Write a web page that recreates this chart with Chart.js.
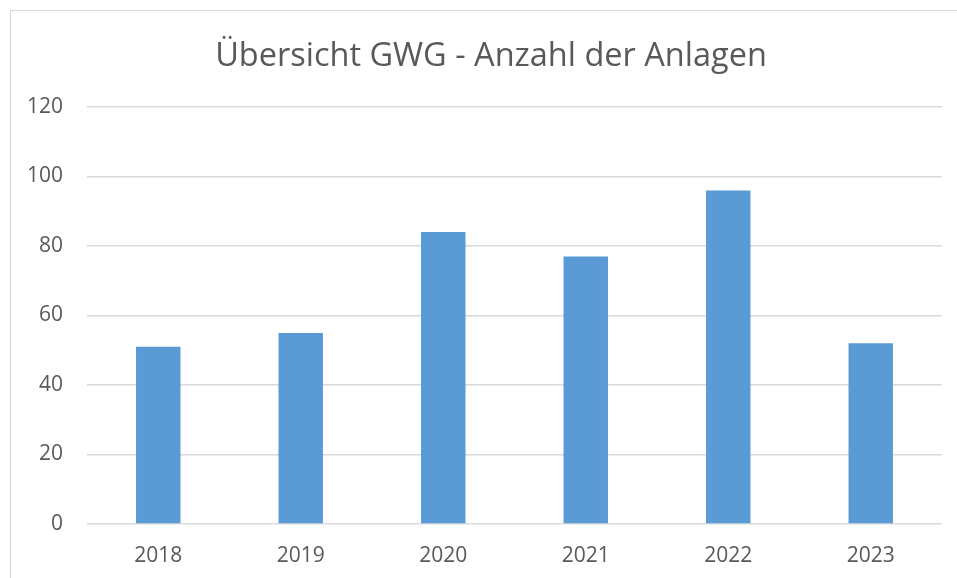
<!DOCTYPE html>
<html>
<head>
<meta charset="utf-8">
<script src="https://cdn.jsdelivr.net/npm/chart.js@4.4.0/dist/chart.umd.min.js"></script>
<style>
  html, body { margin: 0; padding: 0; background: #fff; overflow: hidden; }
  #frame {
    position: absolute; left: 10px; top: 10px;
    width: 1000px; height: 1000px;
    border: 1.5px solid #d9d9d9;
  }
  #wrap { position: absolute; left: 0; top: 0; width: 957px; height: 578px; }
</style>
</head>
<body>
<div id="frame"></div>
<div id="wrap"><canvas id="gwgChart" width="957" height="578"></canvas></div>
<script>
// Chart data
const years = ['2018', '2019', '2020', '2021', '2022', '2023'];
const anzahl = [51, 55, 84, 77, 96, 52];
const yTicks = [0, 20, 40, 60, 80, 100, 120];

const textColor = '#595959';
const gridColor = '#d9d9d9';
const fontFamily = '"Open Sans", "Noto Sans", sans-serif';

// the title is centred over the whole chart frame, which runs past the canvas edge
const shiftTitle = {
    id: 'shiftTitle',
    afterLayout(chart) {
        const t = chart.titleBlock;
        if (t) {
            t.left = 20;
            t.right = 962;
        }
    },
};

const ctx = document.getElementById('gwgChart').getContext('2d');

new Chart(ctx, {
    type: 'bar',
    data: {
        labels: years,
        datasets: [
            {
                label: 'Anzahl',
                data: anzahl,
                backgroundColor: '#5b9bd5',
                borderWidth: 0,
                barPercentage: 0.312,
                categoryPercentage: 1.0,
            },
        ],
    },
    options: {
        responsive: false,
        animation: false,
        layout: { padding: { left: 0, right: 15, top: 0, bottom: 0 } },
        plugins: {
            legend: { display: false },
            tooltip: { enabled: false },
            title: {
                display: true,
                text: 'Übersicht GWG - Anzahl der Anlagen',
                color: textColor,
                font: { family: fontFamily, size: 32.5, weight: 'normal' },
                padding: { top: 37, bottom: 31 },
            },
        },
        scales: {
            x: {
                grid: { display: false, drawTicks: false },
                border: { display: false },
                ticks: {
                    color: textColor,
                    font: { family: fontFamily, size: 21 },
                    padding: 19,
                    maxRotation: 0,
                },
                afterFit: (scale) => { scale.height = 54; },
            },
            y: {
                min: 0,
                max: 120,
                afterBuildTicks: (scale) => {
                    scale.ticks = yTicks.map(v => ({ value: v }));
                },
                grid: { color: gridColor, lineWidth: 1.5, drawTicks: false },
                border: { display: false },
                ticks: {
                    color: textColor,
                    font: { family: fontFamily, size: 21 },
                    padding: 24,
                },
                afterFit: (scale) => { scale.width = 87; },
            },
        },
    },
    plugins: [shiftTitle],
});
</script>
</body>
</html>
